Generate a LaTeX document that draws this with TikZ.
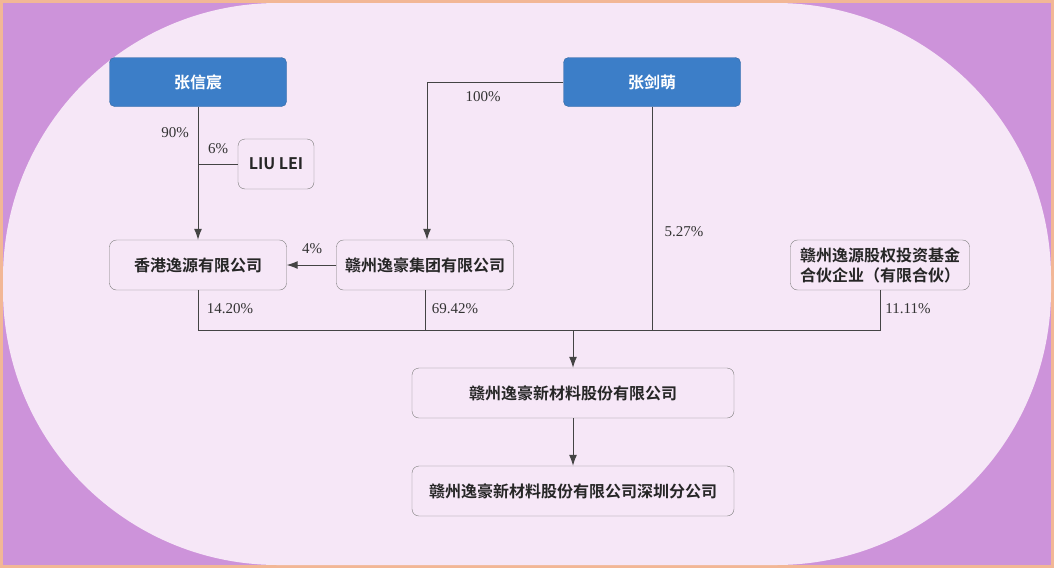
\documentclass[tikz,border=0pt]{standalone}
\usepackage{fontspec}
\setmainfont{Liberation Serif}
\newfontfamily\cjk{Noto Sans CJK SC}[BoldFont={* Bold}]
\usetikzlibrary{positioning, arrows.meta}
\definecolor{bgpurple}{HTML}{CD93DA}
\definecolor{bgpink}{HTML}{F6E7F7}
\definecolor{frameorange}{HTML}{F2B796}
\definecolor{headblue}{HTML}{3C7EC8}
\definecolor{boxline}{HTML}{7A7A7A}
\definecolor{lineg}{HTML}{444444}

\begin{document}
\begin{tikzpicture}[x=1pt, y=-1pt,
    person/.style={draw=headblue!80!black, fill=headblue, rounded corners=5pt,
        minimum width=177pt, minimum height=49pt, text=white,
        font=\cjk\bfseries\fontsize{16}{19}\selectfont},
    firm/.style={draw=boxline, fill=bgpink, rounded corners=7pt,
        minimum height=50pt, text=black!85, align=center,
        font=\cjk\bfseries\fontsize{16}{20}\selectfont},
    pct/.style={text=black!80, font=\fontsize{15}{17}\selectfont},
    link/.style={draw=lineg, line width=1pt},
    arr/.style={link, -{Latex[length=11pt,width=8pt]}},
]
% background
\fill[frameorange] (0,0) rectangle (1054,568);
\fill[bgpurple] (3,3) rectangle (1051,565);
\fill[bgpink, rounded corners=275pt] (3,3) rectangle (1051,565);
\useasboundingbox (0,0) rectangle (1054,568);

% holders
\node[person] (zxc) at (198,82) {张信宸};
\node[person] (zjm) at (652,82) {张剑萌};
\node[firm, minimum width=76pt] (liu) at (276,164) {LIU LEI};
\node[firm, minimum width=177pt] (hk) at (198,265) {香港逸源有限公司};
\node[firm, minimum width=177pt] (grp) at (425,265) {赣州逸豪集团有限公司};
\node[firm, minimum width=179pt] (fund) at (880,265) {赣州逸源股权投资基金\\合伙企业（有限合伙）};
\node[firm, minimum width=322pt] (main) at (573,393) {赣州逸豪新材料股份有限公司};
\node[firm, minimum width=322pt] (sz) at (573,491) {赣州逸豪新材料股份有限公司深圳分公司};

% bus
\coordinate (busL) at (198,330);
\coordinate (busR) at (880,330);
\coordinate (busM) at (573,330);
\coordinate (tap) at (198,164);
\coordinate (bend) at (427,82);

\draw[arr] (zxc) -- (hk);
\draw[link] (tap) -- (liu.west);
\draw[arr] (zjm.west) -- (bend) -- (grp.north -| bend);
\draw[link] (zjm.south) -- (zjm.south |- busL);
\draw[arr] (grp.west) -- (hk.east);
\draw[link] (hk.south) -- (busL) -- (busR) -- (fund.south);
\draw[link] (grp.south) -- (grp.south |- busL);
\draw[arr] (busM) -- (main.north);
\draw[arr] (main) -- (sz);

% labels
\node[pct] (p90) at (175,133) {90\%};
\node[pct] (p6) at (218,149) {6\%};
\node[pct] (p100) at (483,97) {100\%};
\node[pct] (p527) at (684,232) {5.27\%};
\node[pct] (p4) at (312,249) {4\%};
\node[pct] (p1420) at (230,309) {14.20\%};
\node[pct] (p6942) at (455,309) {69.42\%};
\node[pct] (p1111) at (908,309) {11.11\%};
\end{tikzpicture}
\end{document}
